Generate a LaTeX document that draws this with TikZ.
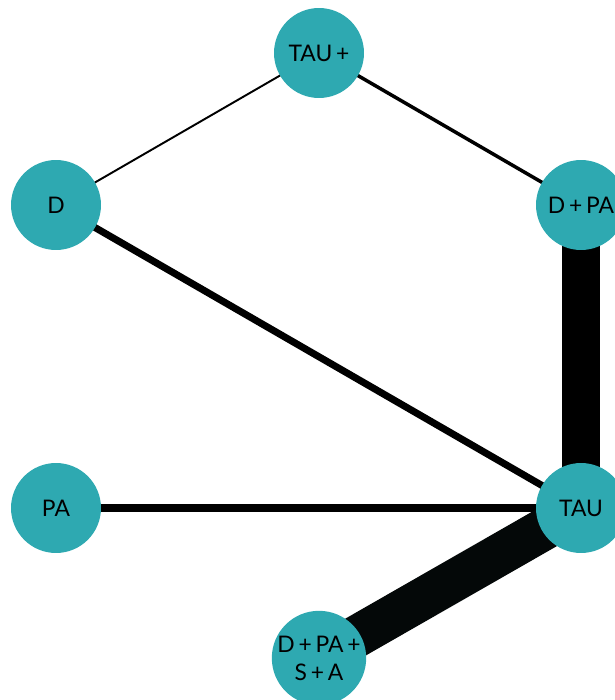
\documentclass[tikz,border=0pt]{standalone}
\usepackage{fontspec}
\setmainfont{Lato}
\usepackage{tikz}
\usetikzlibrary{backgrounds}
\definecolor{nodeteal}{RGB}{46, 169, 177}
\definecolor{edgeblack}{RGB}{4, 8, 8}

\begin{document}
\begin{tikzpicture}[x=0.02cm, y=-0.02cm,
    trt/.style={circle, fill=nodeteal, minimum size=1.8cm, inner sep=0pt, align=center, font=\fontsize{13}{16}\selectfont}]
  \useasboundingbox (0, 0) rectangle (615, 700);

  % Treatments
  \node[trt] (taup) at (319, 53) {TAU\,+};
  \node[trt] (d) at (56, 205) {D};
  \node[trt] (dpa) at (581, 205) {D\,+\,PA};
  \node[trt] (pa) at (56, 508) {PA};
  \node[trt] (tau) at (581, 508) {TAU};
  \node[trt] (dpasa) at (319, 658) {D\,+\,PA\,+\\S\,+\,A};

  % Comparisons (width = number of studies)
  \begin{pgfonlayer}{background}
    \draw[line width=1.1pt] (taup.center) -- (d.center);
    \draw[line width=2pt] (taup.center) -- (dpa.center);
    \draw[line width=4pt] (d.center) -- (tau.center);
    \draw[line width=4pt] (pa.center) -- (tau.center);
    \draw[line width=21.5pt] (dpa.center) -- (tau.center);
    \draw[line width=24pt, edgeblack] (tau.center) -- (dpasa.center);
  \end{pgfonlayer}
\end{tikzpicture}
\end{document}
